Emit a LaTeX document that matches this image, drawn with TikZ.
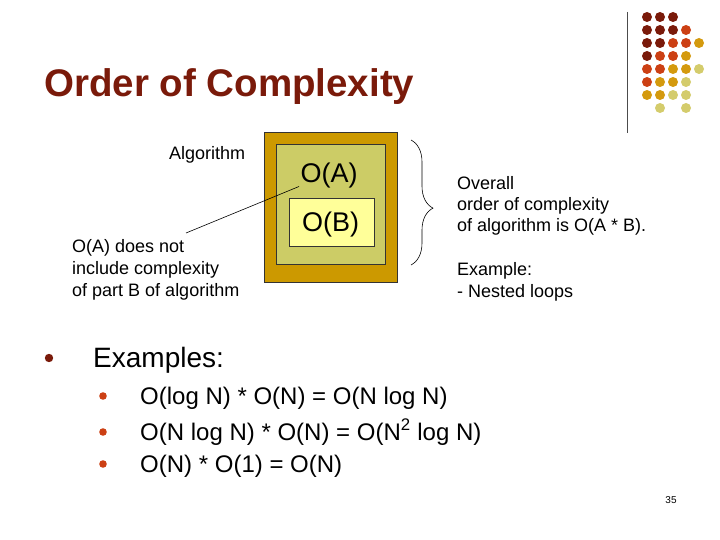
\documentclass[tikz,border=0pt]{standalone}
\usepackage{fontspec}
\setmainfont{Liberation Sans}
\usetikzlibrary{decorations.pathreplacing}
\definecolor{DR}{HTML}{7A1A0A}
\definecolor{OR}{HTML}{CC4014}
\definecolor{GD}{HTML}{D49A0E}
\definecolor{PL}{HTML}{D4CC6C}
\definecolor{boxA}{HTML}{CC9900}
\definecolor{boxB}{HTML}{CCCC66}
\definecolor{boxC}{HTML}{FFFF99}
\tikzset{
  txt/.style={inner sep=0pt, anchor=base west},
  small/.style={txt, font=\fontsize{18}{22}\selectfont},
  big/.style={txt, font=\fontsize{24}{30}\selectfont},
  box/.style={draw=black!80, line width=0.6pt},
}
\begin{document}
\begin{tikzpicture}[x=1pt,y=-1pt]
\useasboundingbox (0,0) rectangle (720,540);
% decorative dots
\foreach \c/\x/\y in {
 DR/647/17, DR/660/17, DR/673/17,
 DR/647/30, DR/660/30, DR/673/30, OR/686/30,
 DR/647/43, DR/660/43, OR/673/43, OR/686/43, GD/699/43,
 DR/647/56, OR/660/56, OR/673/56, GD/686/56,
 OR/647/69, OR/660/69, GD/673/69, GD/686/69, PL/699/69,
 OR/647/82, GD/660/82, GD/673/82, PL/686/82,
 GD/647/95, GD/660/95, PL/673/95, PL/686/95,
 PL/660/108, PL/686/108}
  \fill[\c] (\x,\y) circle (5);
\draw[black!70, line width=0.6pt] (627,12) -- (627,133);
% title
\node[txt, font=\fontsize{38.5}{44}\selectfont\bfseries, text=DR] (title) at (44,97) {Order of Complexity};
% boxes
\node[box, fill=boxA, minimum width=133, minimum height=150, inner sep=0, anchor=north west] (outer) at (264,132) {};
\node[box, fill=boxB, minimum width=109, minimum height=120, inner sep=0, anchor=north west] (middle) at (276,144) {};
\node[box, fill=boxC, minimum width=85, minimum height=47.5, inner sep=0, anchor=north west] (inner) at (288.5,198.5) {};
\node[inner sep=0, anchor=base, font=\fontsize{27}{32}\selectfont] (oa) at (329,182.5) {O(A)};
\node[inner sep=0, anchor=base, font=\fontsize{27}{32}\selectfont] (ob) at (330.5,231) {O(B)};
% labels
\node[small] (alg) at (169,159.5) {Algorithm};
\node[small] (n1) at (72,252.5) {O(A) does not};
\node[small] (n2) at (72,274.5) {include complexity};
\node[small] (n3) at (72,296.5) {of part B of algorithm};
\coordinate (ls) at (186,233);
\coordinate (le) at (299,186.5);
\draw[black, line width=0.6pt] (ls) -- (le);
% brace
\coordinate (bt) at (411,140);
\coordinate (bb) at (411,265);
\draw[black, line width=0.6pt, decorate, decoration={brace, amplitude=22pt, aspect=0.545}] (bt) -- (bb);
\node[small] (o1) at (457,189.5) {Overall};
\node[small] (o2) at (457,210.5) {order of complexity};
\node[small] (o3) at (457,231.5) {of algorithm is O(A * B).};
\node[small] (e1) at (457,275.5) {Example:};
\node[small] (e2) at (457,297) {- Nested loops};
% bullets
\fill[DR] (49,358) circle (4.2);
\node[txt, font=\fontsize{28}{34}\selectfont] (ex) at (93,367) {Examples:};
\fill[OR] (103,396) circle (3.8);
\fill[OR] (103,432) circle (3.8);
\fill[OR] (103,464) circle (3.8);
\node[big] (i1) at (140,404) {O(log N) * O(N) = O(N log N)};
\node[big] (i2) at (140,440) {O(N log N) * O(N) = O(N\textsuperscript{2} log N)};
\node[big] (i3) at (140,472) {O(N) * O(1) = O(N)};
\node[inner sep=0, font=\fontsize{10}{12}\selectfont] (pg) at (671,500) {35};
\end{tikzpicture}
\end{document}
